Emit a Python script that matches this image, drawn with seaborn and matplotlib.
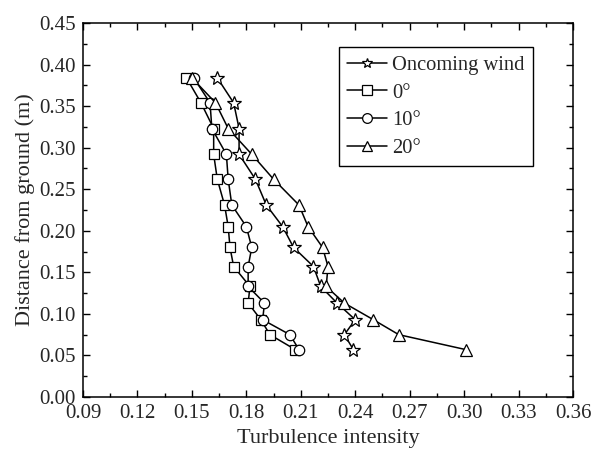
import numpy as np
import pandas as pd
import matplotlib
matplotlib.use("Agg")
import matplotlib.pyplot as plt
import seaborn as sns
from matplotlib.ticker import MultipleLocator

# ---- Data ----
height = [0.384, 0.354, 0.323, 0.292, 0.262, 0.231, 0.205,
          0.180, 0.157, 0.133, 0.113, 0.093, 0.075, 0.057]
oncoming = [0.164, 0.173, 0.176, 0.176, 0.185, 0.191, 0.200,
            0.206, 0.217, 0.221, 0.230, 0.240, 0.234, 0.239]
deg0 = [0.147, 0.155, 0.162, 0.162, 0.164, 0.168, 0.170,
        0.171, 0.173, 0.182, 0.181, 0.188, 0.193, 0.207]
deg10 = [0.151, 0.160, 0.161, 0.169, 0.170, 0.172, 0.180,
         0.183, 0.181, 0.181, 0.190, 0.189, 0.204, 0.209]
deg20 = [0.150, 0.163, 0.170, 0.183, 0.195, 0.209, 0.214,
         0.222, 0.225, 0.224, 0.234, 0.250, 0.264, 0.301]

cases = ["Oncoming wind", "0°", "10°", "20°"]
series = [oncoming, deg0, deg10, deg20]
markers = {"Oncoming wind": "*", "0°": "s", "10°": "o", "20°": "^"}
sizes = {"Oncoming wind": 10, "0°": 6.5, "10°": 7.5, "20°": 8.5}

df = pd.concat(
    [pd.DataFrame({"ti": s, "h": height, "case": c}) for c, s in zip(cases, series)],
    ignore_index=True,
)

# ---- Style ----
sns.set_style("ticks")
plt.rcParams["font.family"] = ["Liberation Serif", "DejaVu Serif"]

fig = plt.figure(figsize=(5.99, 4.5), dpi=100)
ax = fig.add_axes([83 / 599, 1 - 397 / 450, 490 / 599, 374 / 450])

for c in cases:
    sns.lineplot(data=df[df["case"] == c], x="ti", y="h", sort=False,
                 estimator=None, color="black", marker=markers[c],
                 markersize=sizes[c], markerfacecolor="white",
                 markeredgecolor="black", markeredgewidth=0.9,
                 linewidth=1.1, label=c, ax=ax)

ax.set_xlim(0.09, 0.36)
ax.set_ylim(0.0, 0.45)
ax.xaxis.set_major_locator(MultipleLocator(0.03))
ax.xaxis.set_minor_locator(MultipleLocator(0.015))
ax.yaxis.set_major_locator(MultipleLocator(0.05))
ax.yaxis.set_minor_locator(MultipleLocator(0.025))
ax.xaxis.set_major_formatter(plt.FormatStrFormatter("%.2f"))
ax.yaxis.set_major_formatter(plt.FormatStrFormatter("%.2f"))

ax.tick_params(which="both", direction="in", top=True, right=True,
               labelsize=15, color="black", width=1.0)
ax.tick_params(which="major", length=5, pad=5)
ax.tick_params(which="minor", length=3)
for sp in ax.spines.values():
    sp.set_linewidth(1.1)
    sp.set_color("black")

ax.set_xlabel("Turbulence intensity", fontsize=16, labelpad=4)
ax.set_ylabel("Distance from ground (m)", fontsize=16, labelpad=3)

leg = ax.legend(loc="upper right", bbox_to_anchor=(0.918, 0.935),
                fontsize=14.8, frameon=True, fancybox=False,
                edgecolor="black", framealpha=1, handlelength=1.95,
                handletextpad=0.25, borderpad=0.4, labelspacing=0.4,
                borderaxespad=0)
leg.get_frame().set_linewidth(1.0)
for h in leg.legend_handles:
    h.set_markersize(7)

fig.savefig("out.png", dpi=100)
